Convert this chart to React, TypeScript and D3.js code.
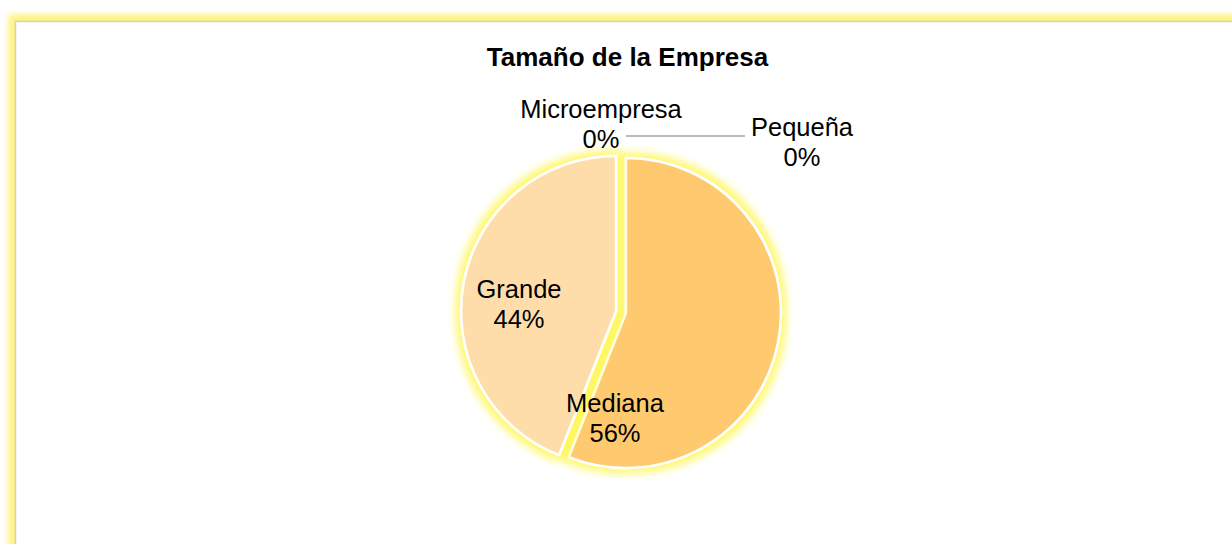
import * as d3 from 'd3';

const categories = ['Microempresa', 'Pequeña', 'Mediana', 'Grande'];
const values = [0, 0, 56, 44];
const percentLabels = ['0%', '0%', '56%', '44%'];

const width = 1232;
const height = 544;
const cx = 621;
const cy = 312;
const radius = 155;

const colors = ['#FFC970', '#FFC970', '#FFC970', '#FFDDAB'];
// how far each slice is pulled out from the centre
const explode = [20, 20, 5, 5];
// where Excel put the labels (best fit), [x, y of first line]
const labelPos: [number, number][] = [
  [601, 118],
  [802, 136],
  [615, 412],
  [519, 298],
];

const App = () => {
  const pie = d3.pie<number>().sort(null).value(d => d);
  const arcs = pie(values);
  const arc = d3.arc<d3.PieArcDatum<number>>().innerRadius(0).outerRadius(radius);

  const offset = (a: d3.PieArcDatum<number>, i: number) => {
    const mid = (a.startAngle + a.endAngle) / 2;
    return [explode[i] * Math.sin(mid), -explode[i] * Math.cos(mid)];
  };

  // outer tip of the Pequeña slice, where the leader line starts
  const [px, py] = offset(arcs[1], 1);
  const tipX = cx + px + 5;
  const tipY = cy + py - radius - 1;

  return (
    <svg
      width={width}
      height={height}
      style={{ position: 'absolute', left: 0, top: 0, background: '#fff' }}
      fontFamily="'Liberation Sans', Arial, sans-serif"
    >
      <defs>
        <filter id="frameGlow" x="-5%" y="-5%" width="110%" height="110%">
          <feGaussianBlur stdDeviation="3" />
        </filter>
        <filter id="sliceGlow" x="-20%" y="-20%" width="140%" height="140%">
          <feMorphology in="SourceAlpha" operator="dilate" radius="4" result="d" />
          <feGaussianBlur in="d" stdDeviation="4" result="b" />
          <feFlood floodColor="#FFF200" floodOpacity="0.6" />
          <feComposite in2="b" operator="in" result="g" />
          <feMerge>
            <feMergeNode in="g" />
            <feMergeNode in="SourceGraphic" />
          </feMerge>
        </filter>
      </defs>

      {/* chart frame with yellow glow */}
      <rect x={15.5} y={21.5} width={1300} height={600} fill="none" stroke="#FFF27A" strokeWidth={14} filter="url(#frameGlow)" />
      <rect x={15.5} y={21.5} width={1300} height={600} fill="#fff" stroke="#D0D0D0" strokeWidth={1.5} />

      <text x={627.5} y={66} textAnchor="middle" fontSize={26} fontWeight="bold">
        Tamaño de la Empresa
      </text>

      <g transform={`translate(${cx},${cy})`}>
        {arcs.map((a, i) => {
          const [dx, dy] = offset(a, i);
          return (
            <path
              key={categories[i]}
              d={arc(a) || ''}
              transform={`translate(${dx},${dy})`}
              fill={colors[i]}
              stroke="#fff"
              strokeWidth={2.5}
              strokeLinejoin="round"
              filter="url(#sliceGlow)"
            />
          );
        })}
      </g>

      <polyline points={`${tipX},${tipY} 745,${tipY}`} fill="none" stroke="#A6A6A6" strokeWidth={1.5} />

      {categories.map((c, i) => (
        <text key={c} x={labelPos[i][0]} y={labelPos[i][1]} textAnchor="middle" fontSize={25.5} fill="#000">
          <tspan x={labelPos[i][0]}>{c}</tspan>
          <tspan x={labelPos[i][0]} dy={29.5}>{percentLabels[i]}</tspan>
        </text>
      ))}
    </svg>
  );
};

export default App;
